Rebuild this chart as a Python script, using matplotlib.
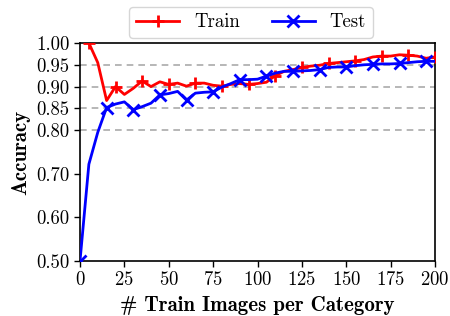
import numpy as np
import matplotlib
matplotlib.use("Agg")
import matplotlib.pyplot as plt

plt.rcParams['font.family'] = ['cmr10', 'DejaVu Serif']
plt.rcParams['axes.formatter.use_mathtext'] = True
plt.rcParams['axes.unicode_minus'] = False

# data
train_x = list(range(5, 205, 5))
train_acc = [1.000, 0.955, 0.868, 0.900, 0.882, 0.896, 0.913, 0.900, 0.911, 0.905,
             0.908, 0.901, 0.908, 0.908, 0.903, 0.901, 0.905, 0.907, 0.905, 0.907,
             0.910, 0.925, 0.935, 0.939, 0.944, 0.947, 0.949, 0.953, 0.955, 0.957,
             0.959, 0.962, 0.968, 0.970, 0.970, 0.973, 0.972, 0.970, 0.965, 0.968]
test_x = list(range(0, 205, 5))
test_acc = [0.500, 0.722, 0.795, 0.852, 0.860, 0.865, 0.847, 0.854, 0.862, 0.881,
            0.884, 0.889, 0.869, 0.885, 0.887, 0.888, 0.899, 0.907, 0.916, 0.916,
            0.917, 0.924, 0.931, 0.935, 0.935, 0.936, 0.937, 0.939, 0.944, 0.945,
            0.945, 0.948, 0.950, 0.951, 0.952, 0.952, 0.953, 0.955, 0.957, 0.958,
            0.958]
y_ticks = [0.50, 0.60, 0.70, 0.80, 0.85, 0.90, 0.95, 1.00]
x_ticks = [0, 25, 50, 75, 100, 125, 150, 175, 200]
grid_levels = [0.80, 0.85, 0.90, 0.95]

fig = plt.figure(figsize=(4.5, 3.16), dpi=100)
ax = fig.add_axes([80 / 450, 1 - 261 / 316, 355 / 450, 218 / 316])

for g in grid_levels:
    ax.axhline(g, color='#aaaaaa', ls=(0, (4, 3)), lw=1.2, zorder=0)

ax.plot(train_x, train_acc, color='red', lw=2, marker='+', ms=9, mew=2,
        markevery=3, label='Train', zorder=3)
ax.plot(test_x, test_acc, color='blue', lw=2, marker='x', ms=8, mew=2,
        markevery=3, label='Test', zorder=3)

ax.set_xlim(0, 200)
ax.set_ylim(0.5, 1.0)
ax.set_xticks(x_ticks)
ax.set_yticks(y_ticks)
ax.set_yticklabels(['%.2f' % t for t in y_ticks])
ax.tick_params(labelsize=13.5, length=4, width=1)
for s in ax.spines.values():
    s.set_linewidth(1.2)

ax.set_xlabel('# Train Images per Category', fontsize=15, fontweight='bold',
              family=['cmb10', 'DejaVu Serif'])
ax.xaxis.set_label_coords(0.5, -0.16)
ax.set_ylabel('Accuracy', fontsize=15, fontweight='bold',
              family=['cmb10', 'DejaVu Serif'], labelpad=4)

fig.legend(loc='upper center', bbox_to_anchor=(251 / 450, 1 - 7 / 316), ncol=2,
           fontsize=13.5, handlelength=2.3, handletextpad=0.8, columnspacing=1.7,
           borderpad=0.35, borderaxespad=0, frameon=True, edgecolor='#cccccc',
           fancybox=True)

fig.savefig('out.png', dpi=100)
